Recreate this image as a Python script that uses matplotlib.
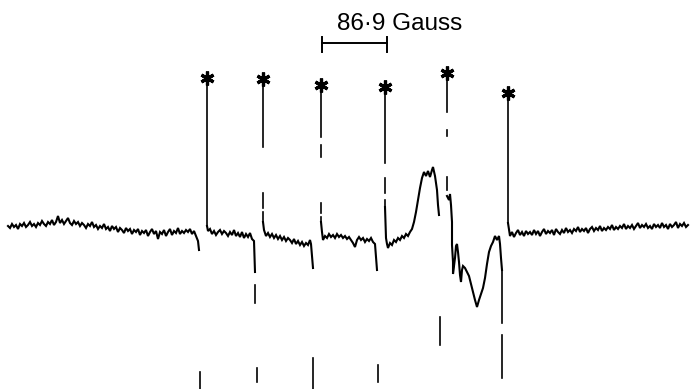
import numpy as np
import matplotlib
matplotlib.use("Agg")
import matplotlib.pyplot as plt

# trace pieces (x = field position, y = pen position, both in px of the chart)
seg1_x = list(range(8, 197, 2)) + [198, 199]
seg1_y = [226, 228, 224, 227, 225, 229, 224, 226, 223, 227,
          225, 222, 226, 224, 227, 223, 225, 221, 224, 226,
          222, 224, 220, 225, 222, 216, 223, 220, 224, 221,
          218, 223, 225, 221, 224, 222, 226, 223, 225, 228,
          224, 226, 222, 227, 225, 229, 226, 228, 224, 229,
          227, 231, 226, 229, 227, 232, 228, 230, 233, 228,
          231, 229, 234, 230, 232, 229, 235, 231, 233, 230,
          236, 232, 229, 234, 231, 239, 232, 234, 230, 236,
          232, 229, 235, 231, 233, 228, 234, 231, 233, 230,
          232, 229, 234, 231, 236, 241, 250]

seg2_x = [207, 208, 210, 212, 214, 216, 218, 220, 222, 224, 226, 228, 230, 232, 234, 236, 238, 240,
          242, 244, 246, 248, 250, 252, 254, 255]
seg2_y = [226, 231, 229, 234, 231, 235, 232, 230, 234, 231, 233, 236, 232, 235, 230, 236, 233, 237,
          232, 238, 234, 237, 233, 239, 241, 272]

seg3_x = [263, 264, 266, 268, 270, 272, 274, 276, 278, 280, 282, 284, 286, 288, 290, 292, 294, 296,
          298, 300, 302, 304, 306, 308, 310, 311, 313]
seg3_y = [222, 230, 236, 233, 237, 234, 238, 235, 239, 236, 240, 237, 241, 238, 240, 243, 239, 244,
          241, 245, 242, 246, 243, 245, 240, 244, 268]

seg4_x = [321, 322, 323, 325, 327, 329, 331, 333, 335, 337, 339, 341, 343, 345, 347, 349, 351, 353,
          355, 357, 359, 361, 363, 365, 367, 369, 371, 373, 375, 377]
seg4_y = [222, 232, 240, 236, 238, 234, 237, 235, 238, 234, 237, 235, 238, 236, 239, 237, 240, 243,
          247, 240, 237, 240, 238, 242, 239, 241, 238, 242, 244, 270]

seg5_x = [385, 386, 387, 388, 390, 392, 394, 396, 398, 400, 402, 404, 406, 408, 410, 412, 414, 416,
          418, 420, 422, 424, 426, 428, 430, 432, 433, 435, 437, 438, 439]
seg5_y = [207, 238, 244, 248, 243, 245, 240, 242, 238, 240, 236, 238, 234, 236, 232, 229, 222, 212,
          200, 188, 178, 172, 176, 171, 177, 170, 167, 176, 190, 205, 215]

seg6_x = [447, 449, 450, 451, 452, 452, 453, 453, 455, 456, 457, 458, 459, 460, 461, 462, 463, 465,
          467, 469, 471, 473, 475, 477, 479, 481, 483, 485, 487, 489, 491, 493, 495, 497, 499, 500,
          501, 502]
seg6_y = [196, 200, 194, 205, 222, 245, 262, 274, 258, 246, 244, 252, 262, 275, 282, 270, 266, 268,
          272, 276, 284, 292, 300, 307, 300, 294, 288, 278, 264, 252, 246, 242, 236, 240, 236, 244,
          258, 270]

seg7_x = [508] + list(range(510, 689, 2))
seg7_y = [223,
          236, 232, 237, 233, 230, 235, 232, 236, 231, 234,
          232, 235, 230, 234, 231, 236, 232, 229, 234, 231,
          233, 230, 235, 229, 232, 234, 230, 233, 228, 232,
          230, 233, 229, 231, 227, 232, 229, 231, 228, 233,
          229, 227, 231, 228, 230, 226, 231, 228, 230, 227,
          229, 225, 230, 227, 229, 226, 228, 224, 229, 226,
          228, 225, 229, 226, 223, 228, 225, 227, 224, 228,
          226, 229, 224, 227, 225, 228, 223, 227, 225, 229,
          224, 227, 225, 222, 228, 224, 226, 223, 227, 225]

# starred (upward) lines: position and star height
star_x = [207, 263, 321, 385, 447, 508]
star_y = [78, 79, 85, 87, 73, 93]

# visible pieces of the fast vertical pen strokes: (x, top, bottom)
up_pieces = [(207, 84, 226), (263, 84, 147), (263, 193, 208), (263, 212, 222),
             (321, 91, 137), (321, 145, 157), (321, 203, 213), (321, 217, 222),
             (385, 93, 163), (385, 178, 193), (385, 200, 207),
             (447, 79, 112), (447, 130, 136), (447, 177, 190), (508, 99, 223)]
down_pieces = [(200, 372, 389), (255, 285, 303), (257, 368, 382), (313, 358, 389),
               (378, 365, 382), (440, 317, 345), (502, 270, 323), (502, 335, 378)]

# scale bar
bar_x = [322, 387]
bar_label = "86·9 Gauss"

fig = plt.figure(figsize=(6.9, 3.89), dpi=100)
ax = fig.add_axes([0, 0, 1, 1])
ax.set_xlim(0, 690)
ax.set_ylim(389, 0)
ax.axis("off")

for sx, sy in [(seg1_x, seg1_y), (seg2_x, seg2_y), (seg3_x, seg3_y), (seg4_x, seg4_y),
               (seg5_x, seg5_y), (seg6_x, seg6_y), (seg7_x, seg7_y)]:
    ax.plot(sx, sy, color="black", lw=1.5, solid_joinstyle="miter")

for x, y0, y1 in up_pieces + down_pieces:
    ax.plot([x, x], [y0, y1], color="black", lw=1.2)

ax.plot(star_x, star_y, linestyle="none", marker=(6, 2, 0), ms=10, mew=2.3, color="black")

# scale bar with end ticks
ax.plot(bar_x, [43, 43], color="black", lw=1.4)
for bx in bar_x:
    ax.plot([bx, bx], [37, 52], color="black", lw=1.4)
ax.text(400, 30, bar_label, ha="center", va="baseline", fontsize=17.5,
        family="Liberation Sans", color="black")

fig.savefig("out.png", dpi=100)
